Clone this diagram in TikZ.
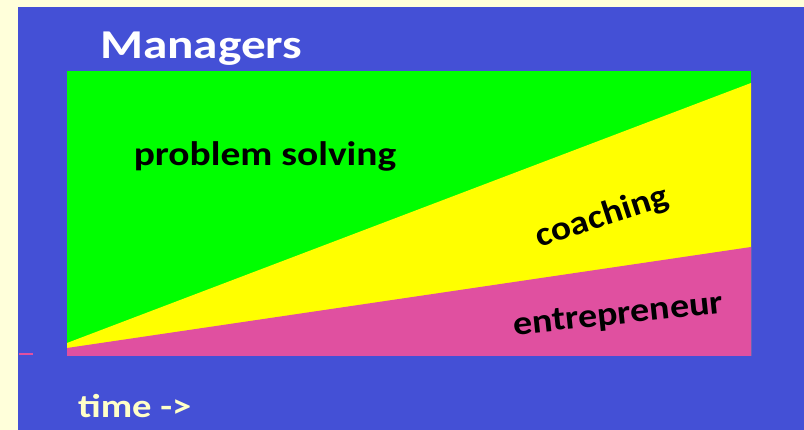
\documentclass[tikz,border=0pt]{standalone}
\usepackage{fontspec}
\setmainfont{Carlito}
\definecolor{cream}{HTML}{FFFFDA}
\definecolor{bgblue}{HTML}{4450D6}
\definecolor{lgreen}{HTML}{00FF00}
\definecolor{lyellow}{HTML}{FFFF00}
\definecolor{lpink}{HTML}{E050A0}
\definecolor{timecol}{HTML}{FFFFC8}
\tikzset{
  lbl/.style={inner sep=0pt, font=\bfseries, text=black},
}
\begin{document}
\begin{tikzpicture}[x=1pt,y=-1pt]
\useasboundingbox (0,0) rectangle (804,430);
\fill[cream] (0,0) rectangle (804,430);
\fill[bgblue] (18,7) rectangle (804,430);
% bands
\fill[lgreen] (67,71) rectangle (751,356);
\fill[lyellow] (67,343) -- (751,83) -- (751,356) -- (67,356) -- cycle;
\fill[lpink] (67,348) -- (751,247) -- (751,356) -- (67,356) -- cycle;
\fill[lpink] (19,353.3) rectangle (33,355);
% texts
\node[inner sep=0pt, anchor=base west, font=\bfseries\fontsize{41}{41}\selectfont, text=white] (title) at (100,59) {\scalebox{1.2}[1]{Managers}};
\node[lbl, anchor=base, font=\bfseries\fontsize{34}{34}\selectfont] (ps) at (265,166) {\scalebox{1.16}[1]{problem solving}};
\node[lbl, anchor=base, rotate=18, font=\bfseries\fontsize{34}{34}\selectfont] (coach) at (605,226) {\scalebox{1.1}[1]{coaching}};
\node[lbl, anchor=base, rotate=6, font=\bfseries\fontsize{34}{34}\selectfont] (entr) at (619,324) {\scalebox{1.12}[1]{entrepreneur}};
\node[inner sep=0pt, anchor=base west, font=\bfseries\fontsize{33}{33}\selectfont, text=timecol] (time) at (78,418) {\scalebox{1.17}[1]{time ->}};
\end{tikzpicture}
\end{document}
